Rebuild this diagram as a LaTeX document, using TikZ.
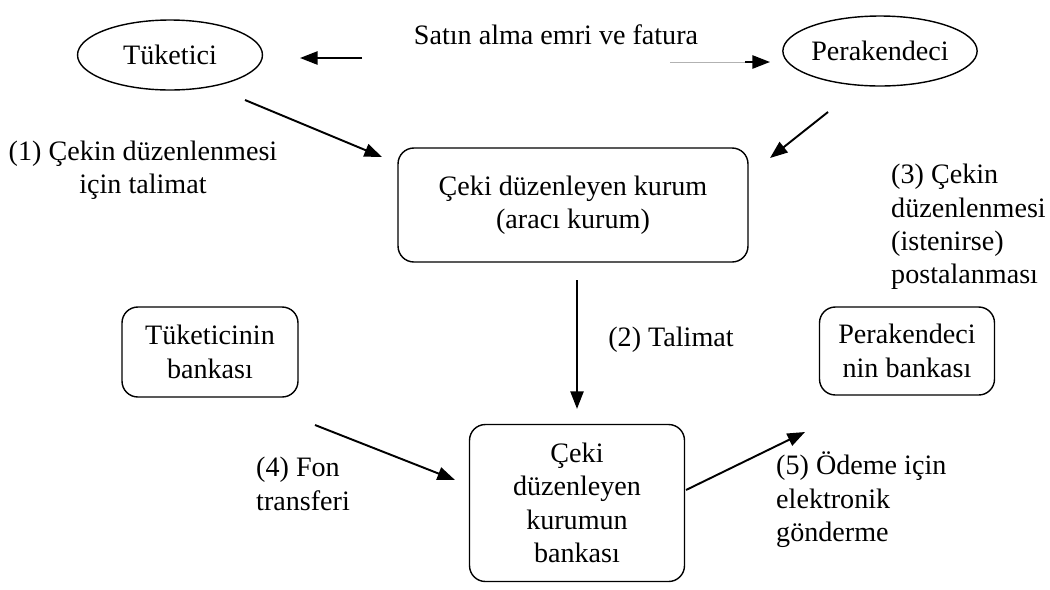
\documentclass[tikz,border=0pt]{standalone}
\usepackage{fontspec}
\setmainfont{Liberation Serif}
\usetikzlibrary{arrows.meta,positioning,shapes.geometric}

\begin{document}
\begin{tikzpicture}[x=0.02cm,y=-0.02cm,font=\fontsize{16}{19}\selectfont,
	arr/.style={-{Triangle[length=10pt,width=7.5pt]},line width=1.1pt}]
	\useasboundingbox (0,0) rectangle (1050,589);
	\begin{scope}[every node/.style={ellipse,draw,line width=0.8pt,minimum width=3.7cm,minimum height=1.4cm,inner sep=0pt}]
		\node (tuketici) at (170,55) {Tüketici};
		\node (perakendeci) at (880,51) {Perakendeci};
	\end{scope}
	\begin{scope}[every node/.style={rectangle,rounded corners=9pt,draw,line width=0.8pt,align=center,inner sep=0pt}]
		\node[minimum width=7cm,minimum height=2.28cm] (kurum) at (573,205) {Çeki düzenleyen kurum\\(aracı kurum)};
		\node[minimum width=3.52cm,minimum height=1.8cm] (tbanka) at (210,352) {Tüketicinin\\bankası};
		\node[minimum width=3.5cm,minimum height=1.76cm] (pbanka) at (907,351) {Perakendeci\\nin bankası};
		\node[minimum width=4.3cm,minimum height=3.14cm] (kbanka) at (577,503) {Çeki\\düzenleyen\\kurumun\\bankası};
	\end{scope}
	% labels
	\node (satin) at (556,35) {Satın alma emri ve fatura};
	\node[align=center] (l1) at (143,170) {(1) Çekin düzenlenmesi\\için talimat};
	\node[align=left,anchor=west] (l3) at (885,227) {(3) Çekin\\düzenlenmesi\\(istenirse)\\postalanması};
	\node (l2) at (671,340) {(2) Talimat};
	\node[align=left,anchor=west] (l4) at (250,484) {(4) Fon\\transferi};
	\node[align=left,anchor=west] (l5) at (770,500) {(5) Ödeme için\\elektronik\\gönderme};
	% arrow ends
	\coordinate (a1) at (362,58);
	\coordinate (a2) at (300,58);
	\coordinate (b1) at (670,62);
	\coordinate (b2) at (745,62);
	\coordinate (b3) at (770,62);
	\coordinate (c1) at (245,100);
	\coordinate (c2) at (382,157);
	\coordinate (d1) at (828,112);
	\coordinate (d2) at (770,158);
	\coordinate (e1) at (315,425);
	\coordinate (e2) at (455,480);
	\coordinate (f1) at (686,490);
	\coordinate (f2) at (805,432);
	\draw[arr] (a1) -- (a2);
	\draw[gray!60,line width=0.5pt] (b1) -- (b2);
	\draw[arr] (b2) -- (b3);
	\draw[arr] (c1) -- (c2);
	\draw[arr] (d1) -- (d2);
	\draw[arr,shorten <=10pt,shorten >=8.5pt] (kbanka.north |- kurum.south) -- (kbanka.north);
	\draw[arr] (e1) -- (e2);
	\draw[arr] (f1) -- (f2);
\end{tikzpicture}
\end{document}
